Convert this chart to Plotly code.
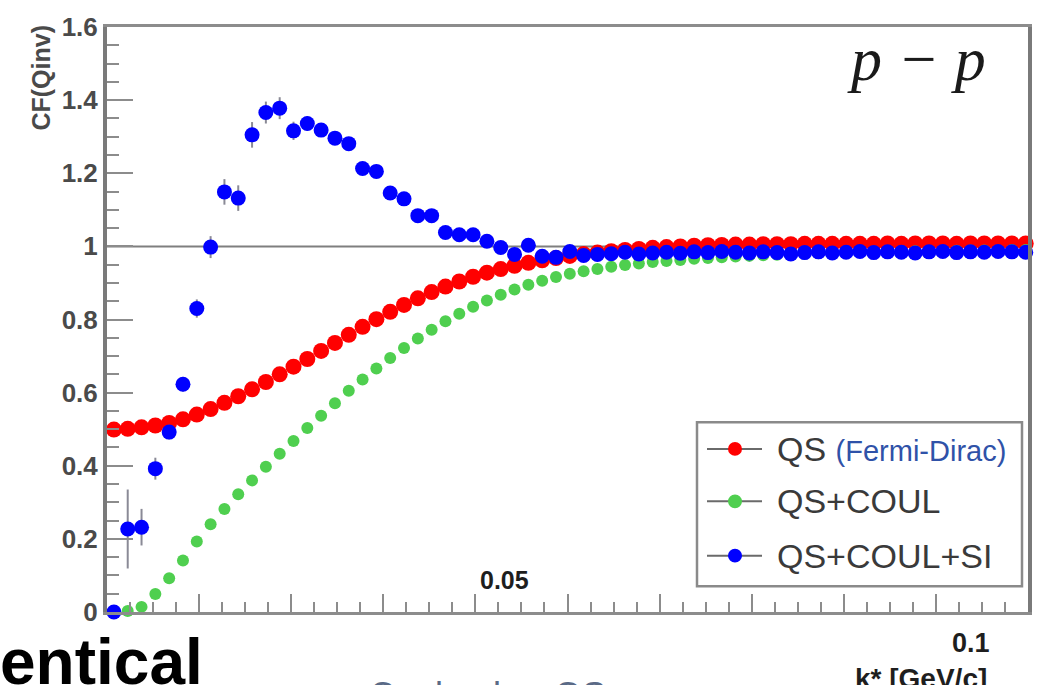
import plotly.graph_objects as go

# p-p correlation function vs k*, three model curves
BIN_WIDTH = 0.0015

cf_qs = [
    0.499, 0.501, 0.505, 0.510, 0.517, 0.527, 0.540, 0.555, 0.572, 0.590,
    0.609, 0.629, 0.650, 0.671, 0.692, 0.714, 0.736, 0.758, 0.780, 0.801,
    0.821, 0.840, 0.858, 0.875, 0.890, 0.904, 0.917, 0.928, 0.938, 0.947,
    0.955, 0.962, 0.968, 0.974, 0.979, 0.983, 0.987, 0.990, 0.993, 0.996,
    0.998, 1.000, 1.002, 1.003, 1.004, 1.005, 1.005, 1.006, 1.006, 1.006,
    1.007, 1.007, 1.007, 1.007, 1.007, 1.007, 1.008, 1.007, 1.008, 1.008,
    1.008, 1.007, 1.008, 1.008, 1.008, 1.008, 1.008,
]

cf_qs_coul = [
    0.000, 0.003, 0.014, 0.049, 0.092, 0.141, 0.193, 0.240, 0.282, 0.322,
    0.360, 0.397, 0.433, 0.468, 0.503, 0.537, 0.571, 0.605, 0.636, 0.666,
    0.695, 0.722, 0.748, 0.772, 0.795, 0.816, 0.835, 0.852, 0.868, 0.882,
    0.895, 0.906, 0.916, 0.925, 0.932, 0.938, 0.944, 0.949, 0.953, 0.957,
    0.960, 0.963, 0.966, 0.968, 0.970, 0.972, 0.974, 0.976, 0.977, 0.979,
    0.980, 0.981, 0.982, 0.983, 0.984, 0.985, 0.985, 0.986, 0.987, 0.987,
    0.988, 0.988, 0.989, 0.989, 0.989, 0.990, 0.990,
]

cf_qs_coul_si = [
    0.000, 0.227, 0.232, 0.392, 0.492, 0.623, 0.830, 0.998, 1.149, 1.132,
    1.305, 1.366, 1.378, 1.316, 1.336, 1.318, 1.296, 1.281, 1.213, 1.205,
    1.146, 1.130, 1.084, 1.084, 1.038, 1.032, 1.032, 1.014, 0.997, 0.978,
    1.003, 0.973, 0.970, 0.986, 0.975, 0.978, 0.980, 0.984, 0.979, 0.982,
    0.984, 0.981, 0.985, 0.983, 0.986, 0.984, 0.982, 0.985, 0.983, 0.979,
    0.983, 0.985, 0.982, 0.984, 0.986, 0.983, 0.985, 0.984, 0.982, 0.985,
    0.986, 0.983, 0.985, 0.984, 0.986, 0.985, 0.984,
]

err_qs_coul_si = [
    0.000, 0.108, 0.050, 0.030, 0.020, 0.020, 0.025, 0.030, 0.035, 0.035,
    0.035, 0.030, 0.030, 0.025, 0.020, 0.018, 0.016, 0.015, 0.014, 0.013,
    0.012, 0.012, 0.011, 0.011, 0.010, 0.010, 0.010, 0.010, 0.009, 0.009,
    0.009, 0.009, 0.009, 0.008, 0.008, 0.008, 0.008, 0.008, 0.008, 0.008,
    0.008, 0.008, 0.008, 0.008, 0.008, 0.008, 0.008, 0.008, 0.008, 0.008,
    0.008, 0.008, 0.008, 0.008, 0.008, 0.008, 0.008, 0.008, 0.008, 0.008,
    0.008, 0.008, 0.008, 0.008, 0.008, 0.008, 0.008,
]

kstar = [round((i + 0.5) * BIN_WIDTH, 6) for i in range(len(cf_qs))]

series_names = ["QS", "QS+COUL", "QS+COUL+SI"]
series_colors = ["#ff0000", "#4fcf4f", "#0000ff"]

# plot-area geometry in page pixels
W, H = 1044, 685
L, R, T, B = 107, 1028, 20, 612


def fx(p):
    return (p - L) / (R - L)


def fy(p):
    return (B - p) / (B - T)


fig = go.Figure()

fig.add_trace(go.Scatter(
    x=kstar, y=cf_qs, mode="markers", name=series_names[0],
    marker=dict(color=series_colors[0], size=16), cliponaxis=False,
))
fig.add_trace(go.Scatter(
    x=kstar, y=cf_qs_coul, mode="markers", name=series_names[1],
    marker=dict(color=series_colors[1], size=12), cliponaxis=False,
))
fig.add_trace(go.Scatter(
    x=kstar, y=cf_qs_coul_si, mode="markers", name=series_names[2],
    marker=dict(color=series_colors[2], size=15), cliponaxis=False,
    error_y=dict(type="data", array=err_qs_coul_si, width=0,
                 color="#8a8a96", thickness=2),
))

axis_grey = "#8c8c8c"
fig.update_xaxes(
    range=[0, 0.1], tick0=0, dtick=0.01, ticks="inside", ticklen=18,
    tickwidth=2, tickcolor=axis_grey, showticklabels=False,
    showgrid=False, zeroline=False, showline=True, linecolor=axis_grey,
    linewidth=3, mirror=True,
    minor=dict(dtick=0.0025, ticks="inside", ticklen=10, tickwidth=2,
               tickcolor=axis_grey, showgrid=False),
)
fig.update_yaxes(
    range=[0, 1.6], tick0=0, dtick=0.2, ticks="inside", ticklen=26,
    tickwidth=2, tickcolor=axis_grey,
    tickfont=dict(family="Liberation Sans", size=26, color="#4a4a4a",
                  weight="bold"),
    showgrid=False, zeroline=False, showline=True, linecolor="#7a7a7a",
    linewidth=4, mirror=True,
    minor=dict(dtick=0.05, ticks="inside", ticklen=12, tickwidth=2,
               tickcolor=axis_grey, showgrid=False),
)

shapes = [
    # unit reference line
    dict(type="line", xref="paper", yref="y", x0=0, x1=1, y0=1, y1=1,
         line=dict(color="#7f7f7f", width=2), layer="below"),
    # legend frame
    dict(type="rect", xref="paper", yref="paper",
         x0=fx(697), x1=fx(1022), y0=fy(586), y1=fy(420),
         line=dict(color="#8a8a8a", width=2.5), fillcolor="white",
         layer="above"),
]

annotations = []
legend_rows = [447, 500, 555]
legend_labels = [
    "QS <span style='font-size:29px;color:#2f52a8'>(Fermi-Dirac)</span>",
    "QS+COUL",
    "QS+COUL+SI",
]
for row, color, label in zip(legend_rows, series_colors, legend_labels):
    shapes.append(dict(type="line", xref="paper", yref="paper",
                       x0=fx(707), x1=fx(762), y0=fy(row), y1=fy(row),
                       line=dict(color="#6a6a6a", width=2), layer="above"))
    shapes.append(dict(type="circle", xref="paper", yref="paper",
                       x0=fx(728), x1=fx(742), y0=fy(row + 7), y1=fy(row - 7),
                       line=dict(width=0), fillcolor=color, layer="above"))
    annotations.append(dict(
        text=label, xref="paper", yref="paper", x=fx(775), y=fy(row),
        xanchor="left", yanchor="middle", showarrow=False,
        font=dict(family="Liberation Sans", size=34, color="#3a3a3a"),
    ))

# axis title and labels
annotations += [
    dict(text="<b>CF(Qinv)</b>", xref="paper", yref="paper",
         x=fx(41.5), y=fy(16), xanchor="center", yanchor="top",
         textangle=-90, showarrow=False,
         font=dict(family="Liberation Sans", size=25, color="#4a4a4a")),
    dict(text="p − p", xref="paper", yref="paper", x=fx(916), y=fy(52),
         xanchor="center", yanchor="middle", showarrow=False,
         font=dict(family="Liberation Serif", size=62, color="#1a1a1a",
                   style="italic")),
    dict(text="<b>0.05</b>", xref="paper", yref="paper", x=fx(504), y=fy(580),
         xanchor="center", yanchor="middle", showarrow=False,
         font=dict(family="Liberation Sans", size=25, color="#1e1e1e")),
    dict(text="<b>0.1</b>", xref="paper", yref="paper", x=fx(971), y=fy(643),
         xanchor="center", yanchor="middle", showarrow=False,
         font=dict(family="Liberation Sans", size=27, color="#1e1e1e")),
    dict(text="<b>k* [GeV/c]</b>", xref="paper", yref="paper", x=fx(853),
         y=fy(662), xanchor="left", yanchor="top", showarrow=False,
         font=dict(family="Liberation Sans", size=28, color="#1e1e1e")),
    dict(text="<b>entical</b>", xref="paper", yref="paper", x=fx(-2),
         y=fy(624), xanchor="left", yanchor="top", showarrow=False,
         font=dict(family="Liberation Sans", size=64, color="#000000")),
    dict(text="Coulomb + QS", xref="paper", yref="paper", x=fx(367),
         y=fy(674), xanchor="left", yanchor="top", showarrow=False,
         font=dict(family="Liberation Sans", size=36, color="#5a6a86")),
]

fig.update_layout(
    width=W, height=H,
    margin=dict(l=L, r=W - R, t=T, b=H - B),
    plot_bgcolor="white", paper_bgcolor="white",
    showlegend=False, shapes=shapes, annotations=annotations,
)

fig.write_html("out.html")
